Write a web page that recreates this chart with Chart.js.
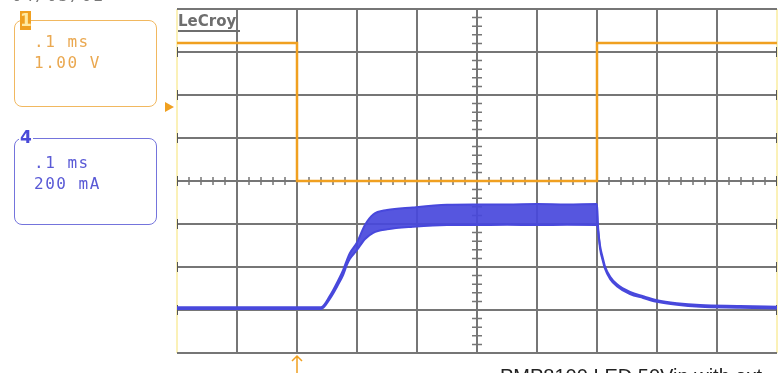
<!DOCTYPE html>
<html>
<head>
<meta charset="utf-8">
<title>LeCroy capture</title>
<script src="https://cdn.jsdelivr.net/npm/chart.js@4.4.0/dist/chart.umd.min.js"></script>
<style>
    body {
        margin: 0;
        width: 778px;
        height: 373px;
        overflow: hidden;
        background: #fff;
        position: relative;
        font-family: 'DejaVu Sans Mono', monospace;
    }
    #wrap { position: absolute; left: 0; top: 0; width: 778px; height: 373px; }
    .box {
        position: absolute;
        left: 14px;
        width: 143px;
        border-radius: 8px;
        box-sizing: border-box;
        border: 1.5px solid;
    }
    .box .txt {
        position: absolute;
        left: 19px;
        font-size: 16px;
        line-height: 21px;
        letter-spacing: 1.5px;
        white-space: pre;
    }
    #box1 { top: 20px; height: 87px; border-color: #f1b860; }
    #box1 .txt { top: 10px; color: #eaa850; }
    #box4 { top: 138px; height: 87px; border-color: #7474dc; }
    #box4 .txt { top: 13px; color: #5a5ad6; }
    .badge {
        position: absolute;
        font-family: 'DejaVu Sans', sans-serif;
        font-weight: bold;
        font-size: 17px;
        line-height: 19px;
        text-align: center;
    }
    #badge1 { left: 20px; top: 11px; width: 11px; height: 19px; background: #f0a020; color: #ffe9a0; }
    #badge4 { left: 19px; top: 128px; width: 14px; height: 18px; background: #fff; color: #4a4ad8; }
    #logo {
        position: absolute;
        left: 178px;
        top: 12px;
        font-family: 'DejaVu Sans', sans-serif;
        font-weight: bold;
        font-size: 15px;
        color: #6e6e6e;
        border-bottom: 2px solid #6e6e6e;
        line-height: 18px;
        padding-right: 4px;
    }
    #date {
        position: absolute;
        left: 12px;
        top: -14px;
        font-size: 16px;
        color: #777;
        letter-spacing: 2px;
    }
    #caption {
        position: absolute;
        left: 500px;
        top: 366px;
        font-family: 'Liberation Sans', Arial, sans-serif;
        font-size: 20px;
        line-height: 20px;
        color: #222;
        white-space: nowrap;
    }
</style>
</head>
<body>
<div id="wrap"><canvas id="scope"></canvas></div>
<div id="date">04/03/02</div>
<div class="box" id="box1"><div class="txt">.1 ms
1.00 V</div></div>
<div class="badge" id="badge1">1</div>
<div class="box" id="box4"><div class="txt">.1 ms
200 mA</div></div>
<div class="badge" id="badge4">4</div>
<div id="logo">LeCroy</div>
<div id="caption">PMP8100 LED 50Vin with ext</div>
<script>
// Channel 1: voltage (V), time in ms
const voltTime = [0, 0.2, 0.2, 0.7, 0.7, 1.0];
const voltValues = [1.49, 1.49, -1.72, -1.72, 1.49, 1.49];

// Channel 4: current (mA), upper and lower envelope of the ripple band
const curTime = [0, 0.1, 0.2, 0.24, 0.255, 0.268, 0.277, 0.283, 0.288, 0.30, 0.313, 0.327, 0.35, 0.393,
    0.45, 0.493, 0.55, 0.60, 0.65, 0.70, 0.702, 0.705, 0.71, 0.713, 0.722, 0.733, 0.755, 0.777,
    0.80, 0.833, 0.872, 0.938, 1.0];
const curUpper = [4, 4, 4, 4, 58, 125, 178, 222, 255, 305, 385, 435, 456, 468,
    480, 482, 482, 484, 482, 484, 370, 292, 230, 197, 146, 112, 75, 55,
    37, 23, 14, 10, 6];
const curLower = [-4, -4, -4, -4, 44, 106, 155, 200, 228, 270, 320, 350, 366, 378,
    386, 386, 387, 386, 387, 386, 356, 278, 216, 185, 134, 102, 65, 47,
    29, 15, 6, 2, -2];

// Screen: 10 x 8 divisions
const timeTicks = [0, 0.1, 0.2, 0.3, 0.4, 0.5, 0.6, 0.7, 0.8, 0.9, 1.0];
const divTicks = [-4, -3, -2, -1, 0, 1, 2, 3, 4];
const triggerTime = 0.2;

const ORANGE = '#f0a020';
const BLUE = '#4848dc';
const GRID = '#767676';

function toPoints(xs, ys) {
    return xs.map((x, i) => ({ x: x, y: ys[i] }));
}

// Minor ticks on the centre axes, edge markers and the trigger arrow
const scopeDecor = {
    id: 'scopeDecor',
    beforeDatasetsDraw(chart) {
        const ctx = chart.ctx;
        const xs = chart.scales.x;
        const ys = chart.scales.y;
        const area = chart.chartArea;
        const cx = xs.getPixelForValue(0.5);
        const cy = ys.getPixelForValue(0);
        ctx.save();
        ctx.strokeStyle = GRID;
        ctx.lineWidth = 1.5;
        ctx.beginPath();
        for (let i = 1; i < 50; i++) {
            const px = xs.getPixelForValue(i * 0.02);
            ctx.moveTo(px, cy - 4);
            ctx.lineTo(px, cy + 4);
        }
        for (let i = -19; i < 20; i++) {
            const py = ys.getPixelForValue(i * 0.2);
            ctx.moveTo(cx - 5, py);
            ctx.lineTo(cx + 5, py);
        }
        ctx.stroke();

        // small dashes on the left and right edges
        ctx.strokeStyle = '#555';
        ctx.lineWidth = 1;
        ctx.beginPath();
        divTicks.slice(1, -1).forEach(d => {
            const py = ys.getPixelForValue(d);
            [area.left + 0.5, area.right - 0.5].forEach(px => {
                ctx.moveTo(px, py - 5);
                ctx.lineTo(px, py + 5);
            });
        });
        ctx.stroke();
        ctx.restore();
    },
    afterDraw(chart) {
        const ctx = chart.ctx;
        const area = chart.chartArea;
        const zero = chart.scales.volt.getPixelForValue(0);
        const tx = chart.scales.x.getPixelForValue(triggerTime);
        ctx.save();
        ctx.fillStyle = ORANGE;
        ctx.strokeStyle = ORANGE;
        // channel 1 ground marker
        ctx.beginPath();
        ctx.moveTo(area.left - 12, zero - 5);
        ctx.lineTo(area.left - 3, zero);
        ctx.lineTo(area.left - 12, zero + 5);
        ctx.closePath();
        ctx.fill();
        // trigger position arrow
        ctx.lineWidth = 1.5;
        ctx.beginPath();
        ctx.moveTo(tx, area.bottom + 3);
        ctx.lineTo(tx, area.bottom + 20);
        ctx.moveTo(tx - 5, area.bottom + 8);
        ctx.lineTo(tx, area.bottom + 3);
        ctx.lineTo(tx + 5, area.bottom + 8);
        ctx.stroke();
        ctx.restore();
    }
};

document.addEventListener('DOMContentLoaded', function() {
    const ctx = document.getElementById('scope').getContext('2d');
    new Chart(ctx, {
        type: 'line',
        data: {
            datasets: [
                {
                    label: 'C1',
                    data: toPoints(voltTime, voltValues),
                    yAxisID: 'volt',
                    borderColor: ORANGE,
                    borderWidth: 2.5,
                    pointRadius: 0,
                    tension: 0,
                    fill: false
                },
                {
                    label: 'C4 max',
                    data: toPoints(curTime, curUpper),
                    yAxisID: 'amp',
                    borderColor: BLUE,
                    borderWidth: 2,
                    pointRadius: 0,
                    cubicInterpolationMode: 'monotone',
                    fill: false
                },
                {
                    label: 'C4 min',
                    data: toPoints(curTime, curLower),
                    yAxisID: 'amp',
                    borderColor: BLUE,
                    backgroundColor: 'rgba(72, 72, 220, 0.92)',
                    borderWidth: 2,
                    pointRadius: 0,
                    cubicInterpolationMode: 'monotone',
                    fill: '-1'
                }
            ]
        },
        options: {
            responsive: true,
            maintainAspectRatio: false,
            animation: false,
            events: [],
            layout: {
                padding: { left: 177, right: 1, top: 9, bottom: 20 }
            },
            plugins: {
                legend: { display: false },
                tooltip: { enabled: false }
            },
            scales: {
                x: {
                    type: 'linear',
                    min: 0,
                    max: 1,
                    afterBuildTicks: scale => {
                        scale.ticks = timeTicks.map(v => ({ value: v }));
                    },
                    ticks: { display: false },
                    border: { display: false },
                    grid: {
                        drawTicks: false,
                        lineWidth: 2,
                        color: c => (c.index === 0 || c.index === timeTicks.length - 1) ? '#fbf1b8' : GRID
                    }
                },
                y: {
                    min: -4,
                    max: 4,
                    afterBuildTicks: scale => {
                        scale.ticks = divTicks.map(v => ({ value: v }));
                    },
                    ticks: { display: false },
                    border: { display: false },
                    grid: {
                        drawTicks: false,
                        lineWidth: 2,
                        color: GRID
                    }
                },
                volt: {
                    display: false,
                    min: -5.72,
                    max: 2.28
                },
                amp: {
                    display: false,
                    min: -209,
                    max: 1391
                }
            }
        },
        plugins: [scopeDecor]
    });
});
</script>
</body>
</html>
